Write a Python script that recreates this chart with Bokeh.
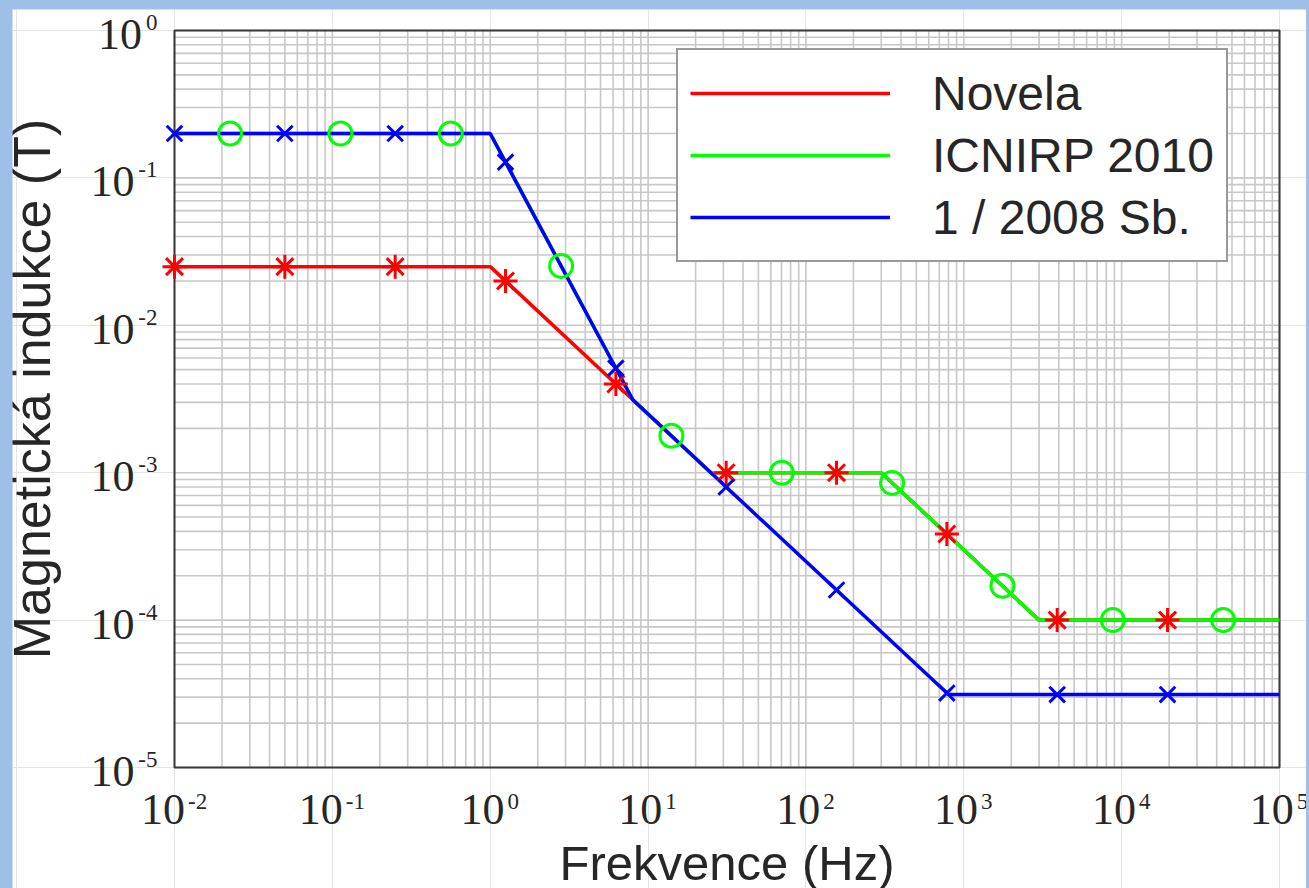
import math
from bokeh.plotting import figure
from bokeh.models import Legend, LegendItem, Range1d, GlobalInlineStyleSheet
from bokeh.core.properties import value
from bokeh.embed import file_html
from bokeh.resources import INLINE

# ---- data ----
freq_novela = [0.01, 1, 8, 25, 300, 3000, 1e5]
b_novela = [0.025, 0.025, 0.003125, 0.001, 0.001, 0.0001, 0.0001]

freq_icnirp = [0.01, 1, 8, 25, 300, 3000, 1e5]
b_icnirp = [0.2, 0.2, 0.003125, 0.001, 0.001, 0.0001, 0.0001]

freq_sb = [0.01, 1, 8, 800, 1e5]
b_sb = [0.2, 0.2, 0.003125, 3.125e-5, 3.125e-5]

mk_freq = [0.01, 0.05, 0.25, 1.25, 6.25, 31.25, 156.25, 781.25, 3906.25, 19531.25]
mk_novela = [0.025, 0.025, 0.025, 0.02, 0.004, 0.001, 0.001, 0.000384, 0.0001, 0.0001]
mk_sb = [0.2, 0.2, 0.2, 0.128, 0.00512, 0.0008, 0.00016, 3.2e-5, 3.125e-5, 3.125e-5]

mk_icnirp_freq = [0.0225, 0.1125, 0.5625, 2.8125, 14.06, 70.31, 351.6, 1758, 8789, 43945]
mk_icnirp = [0.2, 0.2, 0.2, 0.0253, 0.00178, 0.001, 0.000853, 0.000171, 0.0001, 0.0001]

series_labels = ["Novela", "ICNIRP 2010", "1 / 2008 Sb."]
x_title = "Frekvence (Hz)"
y_title = "Magnetická indukce (T)"

x_major = [1e-2, 1e-1, 1e0, 1e1, 1e2, 1e3, 1e4, 1e5]
x_exps = ["-2", "-1", "0", "1", "2", "3", "4", "5"]
y_major = [1e-5, 1e-4, 1e-3, 1e-2, 1e-1, 1e0]
y_exps = ["-5", "-4", "-3", "-2", "-1", "0"]
mantissas = [2, 3, 4, 5, 6, 7, 8, 9]
x_minor = [m * d for d in x_major[:-1] for m in mantissas]
y_minor = [m * d for d in y_major[:-1] for m in mantissas]

# ---- layout / style ----
W, H = 1294, 879
BOX_L, BOX_R, BOX_T, BOX_B = 162, 27, 21, 121   # axes box inset within the canvas (px)
RED, GREEN, BLUE = "#ff0000", "#00ff00", "#0000ff"
TXT = "#262626"
GRID = "#c8c8c8"
SERIF, SANS = value("Liberation Serif"), value("Liberation Sans")

lx0, lx1 = math.log10(x_major[0]), math.log10(x_major[-1])
ly0, ly1 = math.log10(y_major[0]), math.log10(y_major[-1])
xpd = (W - BOX_L - BOX_R) / (lx1 - lx0)
ypd = (H - BOX_T - BOX_B) / (ly1 - ly0)
x_range = Range1d(10 ** (lx0 - BOX_L / xpd), 10 ** (lx1 + BOX_R / xpd))
y_range = Range1d(10 ** (ly0 - BOX_B / ypd), 10 ** (ly1 + BOX_T / ypd))

p = figure(width=W, height=H, x_axis_type="log", y_axis_type="log",
           x_axis_location=None, y_axis_location=None,
           x_range=x_range, y_range=y_range,
           output_backend="svg", toolbar_location=None,
           min_border=0, min_border_left=0, min_border_right=0,
           min_border_top=0, min_border_bottom=0)
p.margin = (9, 0, 0, 12)
p.stylesheets = [GlobalInlineStyleSheet(
    css="html, body { margin: 0 !important; padding: 0; overflow: hidden; background: #9dbfe8; }")]
p.background_fill_color = "white"
p.border_fill_color = "white"
p.outline_line_color = None

# ---- grid (log decades with minor lines) ----
gx = x_major + x_minor
gy = y_major + y_minor
p.segment(x0=gx, y0=[y_major[0]] * len(gx), x1=gx, y1=[y_major[-1]] * len(gx),
          line_color=GRID, line_width=1.6)
p.segment(x0=[x_major[0]] * len(gy), y0=gy, x1=[x_major[-1]] * len(gy), y1=gy,
          line_color=GRID, line_width=1.6)

# ---- axes box ----
p.quad(left=[x_major[0]], right=[x_major[-1]], bottom=[y_major[0]], top=[y_major[-1]],
       fill_color=None, line_color="#3a3a3a", line_width=2)


def exp_width(e):
    return 11.5 * sum(c.isdigit() for c in e) + 7.5 * e.count("-")


xw = [exp_width(e) for e in x_exps]
yw = [exp_width(e) for e in y_exps]

# x tick labels: "10" + raised exponent, centred on the tick
p.text(x=x_major, y=[y_major[0]] * len(x_major), text=["10"] * len(x_major),
       x_offset=[20 - w / 2 for w in xw], y_offset=42,
       text_align="right", text_baseline="alphabetic",
       text_font=SERIF, text_font_size="44px", text_color=TXT)
p.text(x=x_major, y=[y_major[0]] * len(x_major), text=x_exps,
       x_offset=[23 - w / 2 for w in xw], y_offset=34,
       text_align="left", text_baseline="alphabetic",
       text_font=SERIF, text_font_size="23px", text_color=TXT)

# y tick labels: right aligned to the left of the box
p.text(x=[x_major[0]] * len(y_major), y=y_major, text=["10"] * len(y_major),
       x_offset=[-(21 + w) for w in yw], y_offset=4,
       text_align="right", text_baseline="alphabetic",
       text_font=SERIF, text_font_size="44px", text_color=TXT)
p.text(x=[x_major[0]] * len(y_major), y=y_major, text=y_exps,
       x_offset=-17, y_offset=-8,
       text_align="right", text_baseline="alphabetic",
       text_font=SERIF, text_font_size="23px", text_color=TXT)

# axis titles
p.text(x=[10 ** ((lx0 + lx1) / 2)], y=[y_major[0]], text=[x_title],
       y_offset=95, text_align="center", text_baseline="alphabetic",
       text_font=SANS, text_font_size="49px", text_color=TXT)
p.text(x=[x_major[0]], y=[10 ** ((ly0 + ly1) / 2)], text=[y_title],
       x_offset=-143, y_offset=-10, angle=math.pi / 2,
       text_align="center", text_baseline="alphabetic",
       text_font=SANS, text_font_size="52px", text_color=TXT)

# ---- series ----
r_nov = p.line(freq_novela, b_novela, line_color=RED, line_width=3.5)
r_icn = p.line(freq_icnirp, b_icnirp, line_color=GREEN, line_width=3.5)
r_sb = p.line(freq_sb, b_sb, line_color=BLUE, line_width=3.5)

p.scatter(mk_freq, mk_novela, marker="asterisk", size=24, line_color=RED, line_width=3)
p.scatter(mk_icnirp_freq, mk_icnirp, marker="circle", size=23, fill_color=None,
          line_color=GREEN, line_width=3)
p.scatter(mk_freq, mk_sb, marker="x", size=22, line_color=BLUE, line_width=3)

legend = Legend(items=[LegendItem(label=series_labels[0], renderers=[r_nov]),
                       LegendItem(label=series_labels[1], renderers=[r_icn]),
                       LegendItem(label=series_labels[2], renderers=[r_sb])],
                location=(664, 626), margin=0, padding=12, spacing=0,
                glyph_width=200, glyph_height=62, label_height=62, label_standoff=42,
                label_text_font="Liberation Sans", label_text_font_size="48px",
                label_text_color=TXT, border_line_color="#333333", border_line_width=2,
                background_fill_color="white", background_fill_alpha=1)
p.add_layout(legend)

open("out.html", "w").write(file_html(p, INLINE))
